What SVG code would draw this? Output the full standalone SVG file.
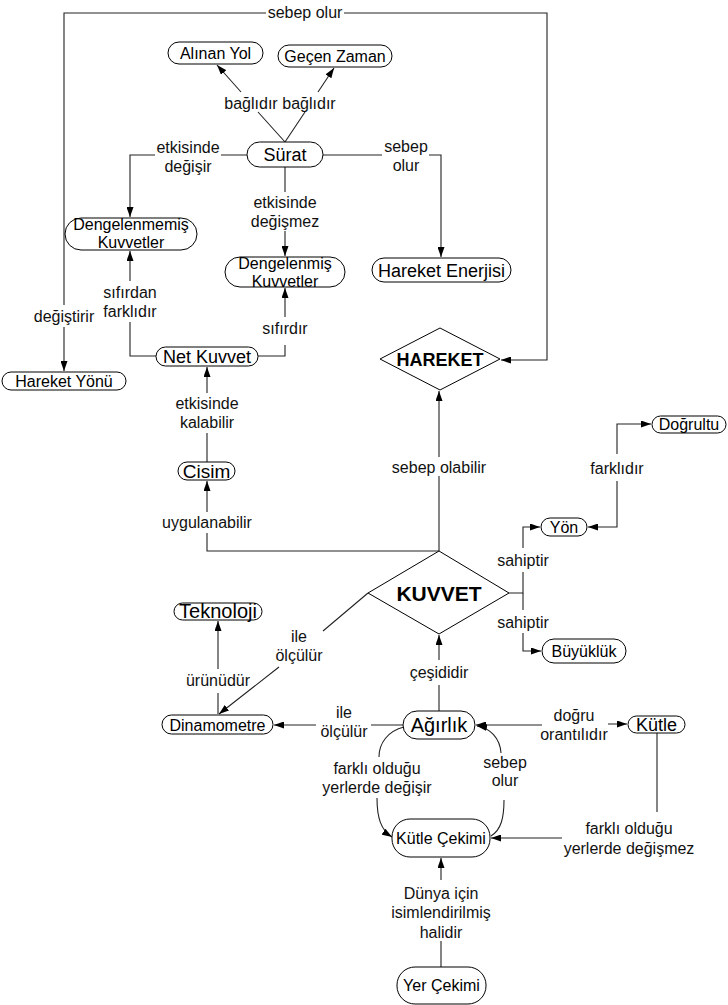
<svg xmlns="http://www.w3.org/2000/svg" width="728" height="1005" viewBox="0 0 728 1005">
<defs>
<marker id="arr" viewBox="0 0 10 7" refX="10" refY="3.5" markerWidth="10" markerHeight="7" markerUnits="userSpaceOnUse" orient="auto-start-reverse">
<path d="M0,0 L10,3.5 L0,7 z" fill="#000"/>
</marker>
<style>
.n rect,.n polygon{fill:#fff;stroke:#000;stroke-width:1}
.n text{font-family:"Liberation Sans",Arial,sans-serif;fill:#000;text-anchor:middle}
.c path{fill:none;stroke:#222;stroke-width:1.1}
.a{marker-end:url(#arr)}
.b{marker-start:url(#arr);marker-end:url(#arr)}
.l text{font-family:"Liberation Sans",Arial,sans-serif;font-size:16px;fill:#111;text-anchor:middle}
</style>
</defs>
<rect width="728" height="1005" fill="#fff"/>
<g id="connectors" class="c">
<path class="a" d="M344,13 L547,13 L547,360 L501,360"/>
<path class="a" d="M266,13 L64,13 L64,305 M64,327 L64,371"/>
<path class="a" d="M285,142 L258,112 M241,92 L217,65"/>
<path class="a" d="M285,142 L305,112 M318,92 L334,68"/>
<path class="a" d="M247,155 L221,155 M155,155 L130,155 L130,217"/>
<path class="a" d="M285,167 L285,192 M285,231 L285,256"/>
<path class="a" d="M323,155 L382,155 M429,155 L441,155 L441,257"/>
<path class="a" d="M156,356 L130,356 L130,322 M130,281 L130,251"/>
<path class="a" d="M258,356 L285,356 L285,345 M285,317 L285,288"/>
<path class="a" d="M207,462 L207,433 M207,393 L207,367"/>
<path class="a" d="M439,551 L207,551 L207,533 M207,512 L207,481"/>
<path class="a" d="M439,551 L439,476 M439,457 L439,391"/>
<path class="a" d="M509,593 L523,593 L523,572 M523,548 L523,527 L540,527"/>
<path class="a" d="M523,593 L523,610 M523,633 L523,651 L541,651"/>
<path class="b" d="M588,527 L617,527 L617,481 M617,454 L617,424 L651,424"/>
<path class="a" d="M218,714 L218,693 M218,669 L218,621"/>
<path class="a" d="M368,593 L323,631 M279,667 L219,714"/>
<path class="a" d="M403,725 L371,725 M316,725 L274,725"/>
<path class="a" d="M439,711 L439,685 M439,660 L439,635"/>
<path class="b" d="M476,725 L542,725 M608,724 L627,724"/>
<path class="a" d="M657,733 L657,812 M562,838 L491,838"/>
<path class="a" d="M404,727 C388,731 379,743 379,757 M377,798 C377,818 381,830 392,837"/>
<path class="a" d="M491,836 C501,830 504,818 504,800 M501,753 C500,738 490,728 477,726"/>
<path class="a" d="M441,967 L441,941 M441,880 L441,858"/>
</g>
<g id="labels" class="l">
<text x="305" y="18">sebep olur</text>
<text x="64" y="322">değiştirir</text>
<text x="251" y="109">bağlıdır</text>
<text x="309" y="109">bağlıdır</text>
<text x="188" y="153">etkisinde</text>
<text x="188" y="172">değişir</text>
<text x="285" y="208">etkisinde</text>
<text x="285" y="227">değişmez</text>
<text x="406" y="152">sebep</text>
<text x="406" y="171">olur</text>
<text x="130" y="298">sıfırdan</text>
<text x="130" y="317">farklıdır</text>
<text x="285" y="334">sıfırdır</text>
<text x="207" y="409">etkisinde</text>
<text x="207" y="428">kalabilir</text>
<text x="207" y="528">uygulanabilir</text>
<text x="439" y="473">sebep olabilir</text>
<text x="523" y="566">sahiptir</text>
<text x="523" y="628">sahiptir</text>
<text x="617" y="474">farklıdır</text>
<text x="218" y="686">ürünüdür</text>
<text x="299" y="642">ile</text>
<text x="299" y="661">ölçülür</text>
<text x="344" y="718">ile</text>
<text x="344" y="737">ölçülür</text>
<text x="439" y="678">çeşididir</text>
<text x="574" y="721">doğru</text>
<text x="574" y="740">orantılıdır</text>
<text x="629" y="834">farklı olduğu</text>
<text x="629" y="854">yerlerde değişmez</text>
<text x="377" y="774">farklı olduğu</text>
<text x="377" y="793">yerlerde değişir</text>
<text x="505" y="768">sebep</text>
<text x="505" y="786">olur</text>
<text x="441" y="899">Dünya için</text>
<text x="441" y="918">isimlendirilmiş</text>
<text x="441" y="938">halidir</text>
</g>
<g id="alinan-yol" class="n"><rect x="168" y="42" width="95" height="22" rx="11"/><text x="215.5" y="59" font-size="16">Alınan Yol</text></g>
<g id="gecen-zaman" class="n"><rect x="278" y="45" width="114" height="22" rx="11"/><text x="335" y="62" font-size="16">Geçen Zaman</text></g>
<g id="surat" class="n"><rect x="247" y="142" width="76" height="25" rx="12.5"/><text x="285" y="161" font-size="18">Sürat</text></g>
<g id="dengelenmemis" class="n"><rect x="65" y="218" width="132" height="32" rx="16"/><text x="131" y="230" font-size="16">Dengelenmemiş</text><text x="131" y="248" font-size="16">Kuvvetler</text></g>
<g id="dengelenmis" class="n"><rect x="225" y="257" width="120" height="30" rx="15"/><text x="285" y="269" font-size="16">Dengelenmiş</text><text x="285" y="287" font-size="16">Kuvvetler</text></g>
<g id="hareket-enerjisi" class="n"><rect x="372" y="258" width="139" height="24" rx="12"/><text x="441.5" y="276.5" font-size="18">Hareket Enerjisi</text></g>
<g id="hareket-yonu" class="n"><rect x="2" y="372" width="124" height="18" rx="9"/><text x="64" y="387" font-size="16">Hareket Yönü</text></g>
<g id="net-kuvvet" class="n"><rect x="156" y="347" width="102" height="19" rx="9.5"/><text x="207" y="363" font-size="18">Net Kuvvet</text></g>
<g id="hareket" class="n"><polygon points="380,359 440,328 500,359 440,390"/><text x="440" y="365.5" font-size="18" font-weight="bold">HAREKET</text></g>
<g id="cisim" class="n"><rect x="178" y="462" width="57" height="18" rx="9"/><text x="206.5" y="478" font-size="19">Cisim</text></g>
<g id="kuvvet" class="n"><polygon points="368,593 439,551 509,593 439,634"/><text x="439" y="600.5" font-size="21" font-weight="bold">KUVVET</text></g>
<g id="dogrultu" class="n"><rect x="652" y="416" width="74" height="17" rx="8.5"/><text x="689" y="430" font-size="16">Doğrultu</text></g>
<g id="yon" class="n"><rect x="541" y="518" width="46" height="18" rx="9"/><text x="564" y="533" font-size="16">Yön</text></g>
<g id="buyukluk" class="n"><rect x="542" y="639" width="84" height="24" rx="12"/><text x="584" y="657" font-size="16">Büyüklük</text></g>
<g id="teknoloji" class="n"><rect x="174" y="603" width="88" height="17" rx="8.5"/><text x="218" y="618" font-size="20">Teknoloji</text></g>
<g id="dinamometre" class="n"><rect x="162" y="715" width="111" height="19" rx="9.5"/><text x="217.5" y="730.5" font-size="16">Dinamometre</text></g>
<g id="agirlik" class="n"><rect x="403" y="711" width="72" height="28" rx="14"/><text x="439" y="732" font-size="20">Ağırlık</text></g>
<g id="kutle" class="n"><rect x="628" y="716" width="57" height="17" rx="8.5"/><text x="656.5" y="731" font-size="18">Kütle</text></g>
<g id="kutle-cekimi" class="n"><rect x="392" y="819" width="98" height="38" rx="18"/><text x="441" y="844" font-size="16">Kütle Çekimi</text></g>
<g id="yer-cekimi" class="n"><rect x="397" y="967" width="89" height="37" rx="18"/><text x="441.5" y="991" font-size="16">Yer Çekimi</text></g>
</svg>
